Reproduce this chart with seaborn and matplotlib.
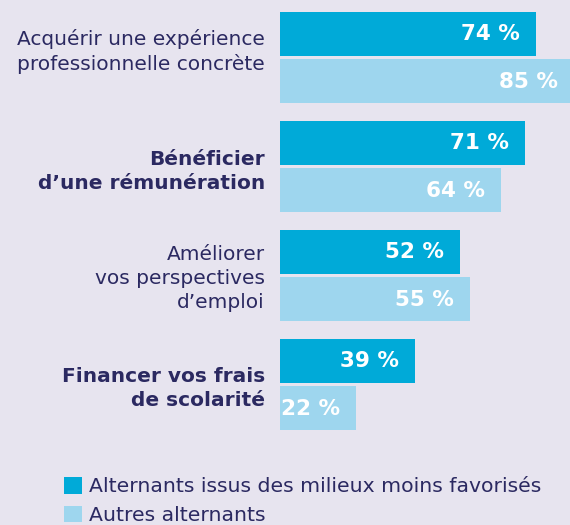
import matplotlib
matplotlib.use("Agg")
import matplotlib.pyplot as plt
import seaborn as sns
import pandas as pd

categories = [
    "Acquérir une expérience\nprofessionnelle concrète",
    "Bénéficier\nd\u2019une rémunération",
    "Améliorer\nvos perspectives\nd\u2019emploi",
    "Financer vos frais\nde scolarité",
]
bold_labels = [False, True, False, True]
series_names = ["Alternants issus des milieux moins favorisés", "Autres alternants"]
favorises_moins = [74, 71, 52, 39]
autres = [85, 64, 55, 22]

BG = "#e7e4ef"
NAVY = "#2b2961"
DARK = "#00aad8"
LIGHT = "#9ed6ee"

sns.set_theme(style="white")
plt.rcParams["font.family"] = ["DejaVu Sans"]

df = pd.DataFrame({
    "cat": categories * 2,
    "serie": [series_names[0]] * 4 + [series_names[1]] * 4,
    "val": favorises_moins + autres,
})

fig = plt.figure(figsize=(5.7, 5.25), dpi=100, facecolor=BG)
ax = fig.add_axes([280 / 570, (525 - 439) / 525, 290 / 570, 436 / 525])
ax.set_facecolor(BG)

sns.barplot(data=df, x="val", y="cat", hue="serie", orient="h",
            palette=[DARK, LIGHT], width=0.872, gap=0.074,
            saturation=1, linewidth=0, ax=ax, legend=True)

ax.set_xlim(0, 290 / 3.455)
ax.set_ylim(3.5, -0.5)
ax.set_xlabel("")
ax.set_ylabel("")
ax.set_xticks([])
ax.set_yticks([])
for s in ax.spines.values():
    s.set_visible(False)

# category labels, right-aligned left of the bars
label_dy = [4.5, -3.5, -2.0, -2.7]  # vertical nudges in points
for i, (cat, b) in enumerate(zip(categories, bold_labels)):
    ax.annotate(cat, xy=(0, i), xycoords=("axes fraction", "data"),
                xytext=(-10.8, label_dy[i]), textcoords="offset points",
                ha="right", va="center", multialignment="right",
                color=NAVY, fontsize=14.5, linespacing=1.33,
                fontweight="bold" if b else "normal", annotation_clip=False)

for cont, vals in zip(ax.containers, [favorises_moins, autres]):
    for patch, v in zip(cont.patches, vals):
        ax.annotate(f"{v}\u00a0%", xy=(patch.get_width(), patch.get_y() + patch.get_height() / 2),
                    xytext=(-11.5, -0.5), textcoords="offset points",
                    ha="right", va="center", color="white", fontsize=15.5,
                    fontweight="bold", annotation_clip=False)

handles, labels = ax.get_legend_handles_labels()
ax.get_legend().remove()
leg = fig.legend(handles, labels, loc="upper left",
                 bbox_to_anchor=(64 / 570, 1 - 477 / 525),
                 frameon=False, fontsize=14.7, handlelength=0.88, handleheight=0.88,
                 handletextpad=0.35, labelspacing=0.45, borderpad=0, borderaxespad=0)
for t in leg.get_texts():
    t.set_color(NAVY)
for h in leg.legend_handles:
    h.set_linewidth(0)

fig.savefig("out.png", dpi=100, facecolor=BG)
